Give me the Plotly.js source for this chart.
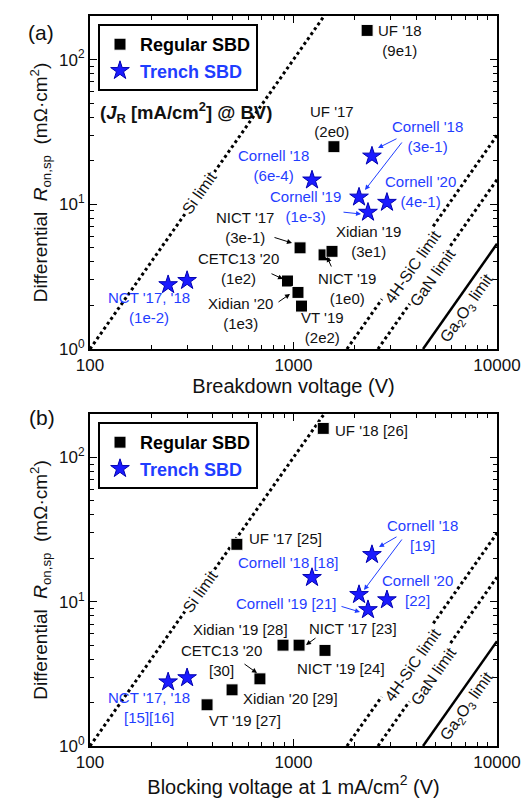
<!DOCTYPE html>
<html><head><meta charset="utf-8">
<script src="https://cdn.plot.ly/plotly-3.0.1.min.js"></script>
<style>body{margin:0;background:#fff}#chart{width:527px;height:800px}</style>
</head><body><div id="chart"></div>
<script>
// ---------- data ----------
// Panel (a): breakdown voltage
const regularA_names = ["UF '18", "UF '17", "NICT '19", "Xidian '19", "NICT '17", "CETC13 '20", "Xidian '20", "VT '19"];
const regularA_V = [2300, 1580, 1413, 1546, 1077, 934, 1052, 1095];
const regularA_R = [159, 25, 4.47, 4.73, 5.0, 2.95, 2.46, 1.98];
const trenchA_names = ["Cornell '18", "Cornell '18", "Cornell '19", "Cornell '19", "Cornell '20", "NCT '17", "NCT '18"];
const trenchA_V = [2430, 1233, 2099, 2323, 2879, 242, 300];
const trenchA_R = [21.5, 14.7, 11.2, 8.8, 10.3, 2.78, 2.97];
// Panel (b): blocking voltage at 1 mA/cm2
const regularB_names = ["UF '18", "UF '17", "NICT '19", "Xidian '19", "NICT '17", "CETC13 '20", "Xidian '20", "VT '19"];
const regularB_V = [1400, 527, 1428, 888, 1065, 684, 499, 376];
const regularB_R = [159, 25, 4.6, 5.0, 5.0, 2.92, 2.45, 1.93];
const trenchB_names = trenchA_names;
const trenchB_V = [2430, 1233, 2099, 2323, 2879, 242, 300];
const trenchB_R = [21.2, 14.7, 11.2, 8.8, 10.3, 2.78, 2.97];
// Material limits
const siLimit_V = [100, 1414], siLimit_R = [1, 200];
const sicLimit_V = [1830, 10000], sicLimit_R = [1, 29.9];
const ganLimit_V = [2600, 10000], ganLimit_R = [1, 14.8];
const ga2o3Limit_V = [4330, 10000], ga2o3Limit_R = [1, 5.33];
// Tick labels
const xTickVals = [100, 1000, 10000];
const xTickText = ["100", "1000", "10000"];
const yTickVals = [1, 10, 100];
const yTickText = ["10<sup>0</sup>", "10<sup>1</sup>", "10<sup>2</sup>"];

// ---------- styling ----------
const W = 527, H = 800;
const BLUE = "#1f3dff";
const STAR_FILL = "#1a1aff", STAR_EDGE = "#0000b0";
const FONT = "Liberation Sans, Arial, Helvetica, sans-serif";
const TXT = "#111";
const PX = x => x / W, PY = y => 1 - y / H;

function limitTraces(xa, ya) {
  const dotted = {color: "#000", width: 3, dash: "dot"};
  return [
    {x: siLimit_V, y: siLimit_R, mode: "lines", line: dotted, showlegend: false, hoverinfo: "skip", xaxis: xa, yaxis: ya},
    {x: sicLimit_V, y: sicLimit_R, mode: "lines", line: dotted, showlegend: false, hoverinfo: "skip", xaxis: xa, yaxis: ya},
    {x: ganLimit_V, y: ganLimit_R, mode: "lines", line: dotted, showlegend: false, hoverinfo: "skip", xaxis: xa, yaxis: ya},
    {x: ga2o3Limit_V, y: ga2o3Limit_R, mode: "lines", line: {color: "#000", width: 2.5}, showlegend: false, hoverinfo: "skip", xaxis: xa, yaxis: ya}
  ];
}
function regTrace(xs, ys, names, xa, ya, leg) {
  return {x: xs, y: ys, text: names, mode: "markers", name: "<b>Regular SBD</b>",
    marker: {symbol: "square", size: 12, color: "#000", line: {color: "#fff", width: 1}},
    xaxis: xa, yaxis: ya, legend: leg, hoverinfo: "text+x+y"};
}
function trTrace(xs, ys, names, xa, ya, leg) {
  return {x: xs, y: ys, text: names, mode: "markers", name: "<b><span style='color:" + BLUE + "'>Trench SBD</span></b>",
    marker: {symbol: "star", size: 14, color: STAR_FILL, line: {color: STAR_EDGE, width: 1}},
    xaxis: xa, yaxis: ya, legend: leg, hoverinfo: "text+x+y"};
}

const data = [
  ...limitTraces("x", "y"),
  regTrace(regularA_V, regularA_R, regularA_names, "x", "y", "legend"),
  trTrace(trenchA_V, trenchA_R, trenchA_names, "x", "y", "legend"),
  ...limitTraces("x2", "y2"),
  regTrace(regularB_V, regularB_R, regularB_names, "x2", "y2", "legend2"),
  trTrace(trenchB_V, trenchB_R, trenchB_names, "x2", "y2", "legend2")
];

function xAxis(anchor, title) {
  return {type: "log", range: [2, 4], domain: [90 / W, 497 / W], anchor: anchor,
    tickvals: xTickVals, ticktext: xTickText, ticks: "inside", ticklen: 7, tickwidth: 1.2, tickcolor: "#000",
    minor: {dtick: "D1", ticks: "inside", ticklen: 4, tickwidth: 1, tickcolor: "#000", showgrid: false},
    showline: true, linewidth: 2, linecolor: "#000", mirror: "ticks", showgrid: false, zeroline: false,
    tickfont: {size: 17, color: TXT, family: FONT},
    title: {text: title, font: {size: 20, color: TXT, family: FONT}, standoff: 4}};
}
function yAxis(anchor, domain) {
  return {type: "log", range: [0, Math.log10(200)], domain: domain, anchor: anchor,
    tickvals: yTickVals, ticktext: yTickText, ticks: "inside", ticklen: 7, tickwidth: 1.2, tickcolor: "#000",
    minor: {dtick: "D1", ticks: "inside", ticklen: 4, tickwidth: 1, tickcolor: "#000", showgrid: false},
    showline: true, linewidth: 2, linecolor: "#000", mirror: "ticks", showgrid: false, zeroline: false,
    tickfont: {size: 17, color: TXT, family: FONT},
    title: {text: "Differential  <i>R</i><sub>on,sp</sub>  (mΩ·cm<sup>2</sup>)", font: {size: 19, color: TXT, family: FONT}, standoff: 6}};
}

// ---------- annotations ----------
const ann = [];
function label(t, x, y, color, xanchor) {
  ann.push({text: t, x: PX(x), y: PY(y), xref: "paper", yref: "paper", showarrow: false,
    xanchor: xanchor || "center", yanchor: "middle", align: xanchor === "left" ? "left" : "center",
    font: {size: 15, color: color || TXT, family: FONT}});
}
function arrow(tx, ty, hx, hy, color) {
  ann.push({text: "", x: PX(hx), y: PY(hy), xref: "paper", yref: "paper", showarrow: true,
    ax: tx - hx, ay: ty - hy, arrowhead: 2, arrowsize: 1, arrowwidth: 1, arrowcolor: color || "#000", standoff: 0, startstandoff: 0});
}
function limitLabel(t, x, y, bg) {
  ann.push({text: t, x: PX(x), y: PY(y), xref: "paper", yref: "paper", showarrow: false, textangle: -54.9,
    xanchor: "center", yanchor: "middle", bgcolor: bg ? "#fff" : "rgba(0,0,0,0)", borderpad: 1,
    font: {size: 16, color: TXT, family: FONT}});
}
// panel letters
ann.push({text: "(a)", x: PX(26), y: PY(19), xref: "paper", yref: "paper", showarrow: false, font: {size: 21, color: TXT, family: FONT}});
ann.push({text: "(b)", x: PX(27), y: PY(417), xref: "paper", yref: "paper", showarrow: false, font: {size: 21, color: TXT, family: FONT}});
ann.push({text: "<b>(<i>J</i><sub>R</sub> [mA/cm<sup>2</sup>] @ BV)</b>", x: PX(186), y: PY(97), xref: "paper", yref: "paper", showarrow: false, font: {size: 18.5, color: TXT, family: FONT}});

// panel (a) labels
label("UF '18<br>(9e1)", 400, 40);
label("UF '17<br>(2e0)", 332, 122);
label("Cornell '18<br>(3e-1)", 427, 136, BLUE);
label("Cornell '18<br>(6e-4)", 273, 165, BLUE);
label("Cornell '19<br>(1e-3)", 305, 206, BLUE);
label("Cornell '20<br>(4e-1)", 420, 191, BLUE);
label("NICT '17<br>(3e-1)", 245, 228);
label("CETC13 '20<br>(1e2)", 238, 268);
label("Xidian '20<br>(1e3)", 241, 313);
label("VT '19<br>(2e2)", 322, 328);
label("Xidian '19<br>(3e1)", 368, 241);
label("NICT '19<br>(1e0)", 347, 288);
label("NCT '17, '18<br>(1e-2)", 149, 307, BLUE);
arrow(398, 138, 378, 148, BLUE);
arrow(403, 141, 365, 190, BLUE);
arrow(342, 212, 361, 214, BLUE);
arrow(273, 237, 292, 243);
arrow(270, 273, 283, 279);
arrow(277, 303, 290, 294);
arrow(332, 268, 327, 257);
limitLabel("Si limit", 200, 193, true);
limitLabel("4H-SiC limit", 412, 267, true);
limitLabel("GaN limit", 433, 278, true);
limitLabel("Ga<sub>2</sub>O<sub>3</sub> limit", 467, 308, false);

// panel (b) labels
label("UF '18 [26]", 333, 431, TXT, "left");
label("UF '17 [25]", 247, 538, TXT, "left");
label("Cornell '18 [18]", 288, 562, BLUE);
label("Cornell '18<br>[19]", 422, 535, BLUE);
label("Cornell '20<br>[22]", 417, 590, BLUE);
label("Cornell '19 [21]", 286, 603, BLUE);
label("NICT '17 [23]", 353, 628);
label("Xidian '19 [28]", 241, 629);
label("NICT '19 [24]", 341, 668);
label("CETC13 '20<br>[30]", 221, 660);
label("Xidian '20 [29]", 290, 698);
label("VT '19 [27]", 245, 720);
label("NCT '17, '18<br>[15][16]", 149, 707, BLUE);
arrow(398, 536, 379, 547, BLUE);
arrow(403, 538, 364, 590, BLUE);
arrow(340, 606, 360, 612, BLUE);
arrow(317, 637, 306, 645);
arrow(243, 663, 257, 673);
limitLabel("Si limit", 200, 591, true);
limitLabel("4H-SiC limit", 412, 665, true);
limitLabel("GaN limit", 433, 676, true);
limitLabel("Ga<sub>2</sub>O<sub>3</sub> limit", 467, 706, false);

const legendStyle = (y) => ({x: PX(98), y: PY(y), xref: "paper", yref: "paper", xanchor: "left", yanchor: "top",
  bgcolor: "#fff", bordercolor: "#000", borderwidth: 2, font: {size: 18, color: "#000", family: FONT},
  tracegroupgap: 0, itemclick: false});

const layout = {
  width: W, height: H, margin: {l: 0, r: 0, t: 0, b: 0},
  paper_bgcolor: "#fff", plot_bgcolor: "#fff",
  font: {family: FONT, color: TXT},
  xaxis: xAxis("y", "Breakdown voltage (V)"),
  yaxis: yAxis("x", [1 - 349 / H, 1 - 16 / H]),
  xaxis2: xAxis("y2", "Blocking voltage at 1 mA/cm<sup>2</sup> (V)"),
  yaxis2: yAxis("x2", [1 - 746 / H, 1 - 414 / H]),
  legend: legendStyle(24),
  legend2: legendStyle(422),
  annotations: ann,
  showlegend: true
};

Plotly.newPlot("chart", data, layout, {displayModeBar: false, staticPlot: true});
</script>
</body></html>
